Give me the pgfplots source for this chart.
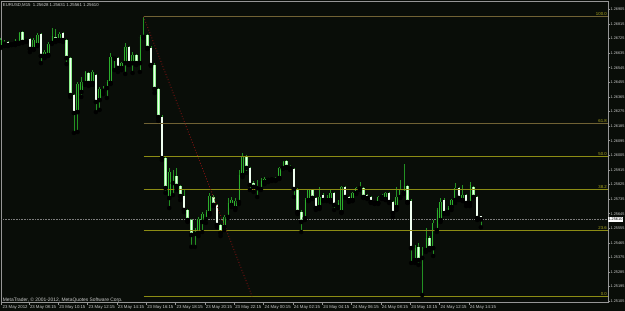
\documentclass[border=0pt]{standalone}
\usepackage{pgfplots}
\pgfplotsset{compat=1.18}
\usepackage{pgfplotstable}
\usepackage{fontspec}
\setmainfont{Liberation Sans}

\definecolor{bg}{RGB}{9,13,8}
\definecolor{wick}{RGB}{35,145,35}
\definecolor{bullout}{RGB}{45,175,45}
\definecolor{bullfill}{RGB}{9,20,9}
\definecolor{bearout}{RGB}{140,240,140}
\definecolor{bearfill}{RGB}{240,255,240}
\definecolor{fibA}{RGB}{140,140,20}
\definecolor{fibB}{RGB}{112,98,52}
\definecolor{fibtxt}{RGB}{175,170,30}
\definecolor{fibred}{RGB}{150,20,20}
\definecolor{framec}{RGB}{150,150,150}
\definecolor{lbl}{RGB}{205,205,205}
\definecolor{bidgray}{RGB}{125,125,125}

\newcommand{\lbl}{\fontsize{4.3}{5}\selectfont}
\newcommand{\ylbl}{\fontsize{3.85}{4.5}\selectfont}
\newcommand{\ftr}{\fontsize{4.9}{5.5}\selectfont}

\pgfplotstableread{
i O H L C
0 1.26673 1.26729 1.26667 1.26716
1 1.26692 1.26716 1.26679 1.26704
2 1.26704 1.26710 1.26679 1.26685
3 1.26692 1.26704 1.26685 1.26689
4 1.26698 1.26722 1.26685 1.26695
5 1.26698 1.26766 1.26692 1.26759
6 1.26766 1.26772 1.26698 1.26704
7 1.26710 1.26722 1.26704 1.26716
8 1.26722 1.26729 1.26642 1.26661
9 1.26661 1.26729 1.26655 1.26716
10 1.26685 1.26759 1.26679 1.26747
11 1.26753 1.26759 1.26574 1.26618
12 1.26618 1.26655 1.26605 1.26642
13 1.26624 1.26704 1.26618 1.26692
14 1.26698 1.26790 1.26692 1.26741
15 1.26735 1.26784 1.26704 1.26716
16 1.26716 1.26766 1.26710 1.26753
17 1.26759 1.26766 1.26704 1.26716
18 1.26716 1.26722 1.26568 1.26605
19 1.26605 1.26611 1.26365 1.26377
20 1.26377 1.26383 1.26143 1.26266
21 1.26272 1.26457 1.26149 1.26445
22 1.26396 1.26488 1.26365 1.26457
23 1.26451 1.26525 1.26439 1.26519
24 1.26513 1.26519 1.26433 1.26451
25 1.26451 1.26531 1.26439 1.26519
26 1.26500 1.26507 1.26272 1.26334
27 1.26346 1.26426 1.26285 1.26414
28 1.26402 1.26433 1.26383 1.26414
29 1.26420 1.26470 1.26359 1.26457
30 1.26451 1.26636 1.26445 1.26611
31 1.26605 1.26618 1.26531 1.26602
32 1.26605 1.26611 1.26519 1.26544
33 1.26544 1.26581 1.26531 1.26574
34 1.26574 1.26698 1.26507 1.26673
35 1.26673 1.26679 1.26562 1.26574
36 1.26574 1.26642 1.26513 1.26624
37 1.26624 1.26630 1.26562 1.26574
38 1.26574 1.26747 1.26519 1.26735
39 1.26735 1.26860 1.26729 1.26747
40 1.26747 1.26753 1.26661 1.26667
41 1.26667 1.26679 1.26556 1.26562
42 1.26562 1.26574 1.26389 1.26414
43 1.26414 1.26420 1.26217 1.26241
44 1.26241 1.26254 1.25976 1.25988
45 1.25988 1.25995 1.25773 1.25803
46 1.25742 1.25927 1.25680 1.25902
47 1.25834 1.25914 1.25760 1.25877
48 1.25877 1.25927 1.25791 1.25816
49 1.25816 1.25822 1.25729 1.25754
50 1.25754 1.25791 1.25655 1.25668
51 1.25668 1.25674 1.25594 1.25606
52 1.25606 1.25612 1.25440 1.25514
53 1.25520 1.25557 1.25440 1.25532
54 1.25526 1.25625 1.25507 1.25612
55 1.25594 1.25655 1.25532 1.25643
56 1.25612 1.25668 1.25588 1.25655
57 1.25649 1.25773 1.25637 1.25754
58 1.25748 1.25760 1.25692 1.25699
59 1.25699 1.25705 1.25563 1.25575
60 1.25575 1.25581 1.25507 1.25526
61 1.25563 1.25637 1.25544 1.25625
62 1.25625 1.25742 1.25618 1.25711
63 1.25699 1.25748 1.25686 1.25729
64 1.25680 1.25742 1.25668 1.25723
65 1.25717 1.25914 1.25705 1.25884
66 1.25884 1.26019 1.25871 1.25995
67 1.25995 1.26007 1.25896 1.25927
68 1.25927 1.25933 1.25791 1.25822
69 1.25834 1.25847 1.25779 1.25810
70 1.25816 1.25853 1.25748 1.25803
71 1.25797 1.25865 1.25791 1.25847
72 1.25840 1.25871 1.25828 1.25859
73 1.25853 1.25865 1.25840 1.25859
74 1.25859 1.25865 1.25847 1.25856
75 1.25853 1.25871 1.25847 1.25865
76 1.25865 1.25933 1.25859 1.25927
77 1.25927 1.25970 1.25921 1.25964
78 1.25970 1.25976 1.25927 1.25933
79 1.25939 1.25945 1.25914 1.25927
80 1.25921 1.25927 1.25748 1.25797
81 1.25797 1.25803 1.25643 1.25655
82 1.25655 1.25668 1.25532 1.25594
83 1.25618 1.25742 1.25606 1.25729
84 1.25729 1.25797 1.25723 1.25791
85 1.25791 1.25797 1.25736 1.25742
86 1.25742 1.25748 1.25668 1.25680
87 1.25686 1.25810 1.25674 1.25748
88 1.25760 1.25773 1.25723 1.25729
89 1.25729 1.25760 1.25723 1.25748
90 1.25729 1.25791 1.25717 1.25773
91 1.25773 1.25779 1.25668 1.25699
92 1.25686 1.25729 1.25680 1.25711
93 1.25655 1.25816 1.25649 1.25810
94 1.25810 1.25816 1.25742 1.25748
95 1.25748 1.25754 1.25717 1.25729
96 1.25729 1.25779 1.25723 1.25773
97 1.25773 1.25810 1.25766 1.25803
98 1.25803 1.25840 1.25791 1.25800
99 1.25803 1.25810 1.25742 1.25748
100 1.25760 1.25766 1.25736 1.25742
101 1.25748 1.25754 1.25711 1.25717
102 1.25717 1.25723 1.25705 1.25711
103 1.25711 1.25754 1.25705 1.25748
104 1.25748 1.25766 1.25736 1.25754
105 1.25736 1.25779 1.25729 1.25773
106 1.25773 1.25779 1.25711 1.25717
107 1.25717 1.25723 1.25625 1.25649
108 1.25686 1.25810 1.25668 1.25748
109 1.25748 1.25853 1.25742 1.25791
110 1.25773 1.25951 1.25766 1.25816
111 1.25816 1.25822 1.25711 1.25717
112 1.25723 1.25736 1.25341 1.25433
113 1.25359 1.25452 1.25341 1.25433
114 1.25440 1.25464 1.25329 1.25359
115 1.25372 1.25440 1.25143 1.25378
116 1.25421 1.25557 1.25409 1.25495
117 1.25495 1.25507 1.25421 1.25433
118 1.25433 1.25606 1.25384 1.25588
119 1.25544 1.25680 1.25532 1.25668
120 1.25606 1.25742 1.25594 1.25717
121 1.25729 1.25742 1.25643 1.25649
122 1.25655 1.25692 1.25643 1.25680
123 1.25686 1.25736 1.25668 1.25729
124 1.25729 1.25834 1.25711 1.25803
125 1.25803 1.25810 1.25729 1.25742
126 1.25729 1.25822 1.25723 1.25760
127 1.25760 1.25766 1.25692 1.25711
128 1.25711 1.25840 1.25692 1.25822
129 1.25810 1.25816 1.25742 1.25748
130 1.25748 1.25754 1.25606 1.25618
131 1.25628 1.25631 1.25561 1.25610
}\candles

\begin{document}
\begin{tikzpicture}[x=1pt,y=1pt]
\path[use as bounding box] (-1.5,-8.3) rectangle (623.5,302.7);
\fill[bg] (-1.5,-8.3) rectangle (623.5,302.7);
\begin{axis}[
  at={(0,0)}, anchor=south west,
  scale only axis, width=606.5pt, height=301.2pt,
  xmin=0.245, xmax=165.69, ymin=1.25096, ymax=1.269538,
  clip=false,
  axis line style={draw=framec, line width=0.7pt},
  tick align=outside, major tick length=2.2pt,
  tick style={draw=framec, line width=0.6pt},
  xtick pos=bottom, ytick pos=right, yticklabel pos=right,
  scaled x ticks=false, scaled y ticks=false,
  xtick={0.3,7.75,15.75,23.75,31.75,39.75,47.75,55.75,63.75,71.75,79.75,87.75,95.75,103.75,111.75,119.75,127.75},
  xticklabels={23 May 2012,23 May 08:15,23 May 10:15,23 May 12:15,23 May 14:15,23 May 16:15,23 May 18:15,23 May 20:15,23 May 22:15,24 May 00:15,24 May 02:15,24 May 04:15,24 May 06:15,24 May 08:15,24 May 10:15,24 May 12:15,24 May 14:15},
  ytick={1.26905,1.26815,1.26725,1.26635,1.26545,1.26455,1.26365,1.26275,1.26185,1.26095,1.26005,1.25915,1.25825,1.25735,1.25645,1.25555,1.25465,1.25375,1.25285,1.25195,1.25105},
  yticklabels={1.26905,1.26815,1.26725,1.26635,1.26545,1.26455,1.26365,1.26275,1.26185,1.26095,1.26005,1.25915,1.25825,1.25735,1.25645,1.25555,1.25465,1.25375,1.25285,1.25195,1.25105},
  x tick label style={font=\lbl, text=lbl, anchor=north west, inner sep=0pt, xshift=0.8pt, yshift=-0.3pt},
  y tick label style={font=\ylbl, text=lbl, anchor=west, inner sep=0pt, xshift=0.2pt},
  axis background/.style={fill=bg},
]
% bid line
\addplot[bidgray, densely dotted, line width=0.6pt, forget plot] coordinates {(0.245,1.25610) (165.69,1.25610)};
% wicks
\addplot[only marks, mark=none, forget plot,
  error bars/.cd, y dir=plus, y explicit, error mark=none,
  error bar style={draw=wick, line width=0.65pt}]
  table[x=i, y=L, y error expr={\thisrow{H}-\thisrow{L}}] {\candles};
% bull bodies (outline)
\addplot[only marks, mark=none, forget plot, unbounded coords=discard,
  error bars/.cd, y dir=plus, y explicit, error mark=-,
  error bar style={draw=bullout, line width=2.6pt},
  error mark options={draw=bullout, rotate=90, line width=0.8pt, mark size=1.3pt}]
  table[x=i, y expr={\thisrow{C}>=\thisrow{O} ? \thisrow{O} : nan}, y error expr={abs(\thisrow{C}-\thisrow{O})}] {\candles};
\addplot[only marks, mark=none, forget plot, unbounded coords=discard,
  error bars/.cd, y dir=plus, y explicit, error mark=none,
  error bar style={draw=bullfill, line width=1.1pt}]
  table[x=i, y expr={\thisrow{C}>=\thisrow{O} ? \thisrow{O} : nan}, y error expr={abs(\thisrow{C}-\thisrow{O})}] {\candles};
% bear bodies
\addplot[only marks, mark=none, forget plot, unbounded coords=discard,
  error bars/.cd, y dir=plus, y explicit, error mark=-,
  error bar style={draw=bearout, line width=2.6pt},
  error mark options={draw=bearout, rotate=90, line width=0.8pt, mark size=1.3pt}]
  table[x=i, y expr={\thisrow{C}<\thisrow{O} ? \thisrow{C} : nan}, y error expr={abs(\thisrow{O}-\thisrow{C})}] {\candles};
\addplot[only marks, mark=none, forget plot, unbounded coords=discard,
  error bars/.cd, y dir=plus, y explicit, error mark=none,
  error bar style={draw=bearfill, line width=1.4pt}]
  table[x=i, y expr={\thisrow{C}<\thisrow{O} ? \thisrow{C} : nan}, y error expr={abs(\thisrow{O}-\thisrow{C})}] {\candles};
% Fibonacci levels
\addplot[fibB, line width=1pt, forget plot] coordinates {(39,1.26860) (165.69,1.26860)};
\addplot[fibB, line width=1pt, forget plot] coordinates {(39,1.26201) (165.69,1.26201)};
\addplot[fibA, line width=1pt, forget plot] coordinates {(39,1.25998) (165.69,1.25998)};
\addplot[fibA, line width=1pt, forget plot] coordinates {(39,1.25794) (165.69,1.25794)};
\addplot[fibA, line width=1pt, forget plot] coordinates {(39,1.25542) (165.69,1.25542)};
\addplot[fibA, line width=1pt, forget plot] coordinates {(39,1.25135) (165.69,1.25135)};
\addplot[fibred, dotted, line width=0.8pt, forget plot] coordinates {(39,1.26860) (68.6,1.25135)};
% level labels
\node[anchor=south east, inner sep=0pt, font=\lbl, text=fibtxt, yshift=0.7pt] at (axis cs:165.4,1.26860) {100.0};
\node[anchor=south east, inner sep=0pt, font=\lbl, text=fibtxt, yshift=0.7pt] at (axis cs:165.4,1.26201) {61.8};
\node[anchor=south east, inner sep=0pt, font=\lbl, text=fibtxt, yshift=0.7pt] at (axis cs:165.4,1.25998) {50.0};
\node[anchor=south east, inner sep=0pt, font=\lbl, text=fibtxt, yshift=0.7pt] at (axis cs:165.4,1.25794) {38.2};
\node[anchor=south east, inner sep=0pt, font=\lbl, text=fibtxt, yshift=0.7pt] at (axis cs:165.4,1.25542) {23.6};
\node[anchor=south east, inner sep=0pt, font=\lbl, text=fibtxt, yshift=0.7pt] at (axis cs:165.4,1.25135) {0.0};
% price box
\node[anchor=west, fill=white, text=black, inner xsep=0.3pt, inner ysep=0.9pt, font=\ylbl] at (axis cs:165.69,1.25610) {1.25610};
% header and footer
\node[anchor=north west, inner sep=0pt, font=\lbl, text=lbl, xshift=1.2pt, yshift=-1.6pt] at (rel axis cs:0,1) {EURUSD,M15\ \ 1.25628 1.25631 1.25561 1.25610};
\node[anchor=base west, inner sep=0pt, font=\ftr, text=lbl, xshift=1.2pt, yshift=1.4pt] at (rel axis cs:0,0) {MetaTrader, © 2001-2012, MetaQuotes Software Corp.};
\end{axis}
\end{tikzpicture}
\end{document}
